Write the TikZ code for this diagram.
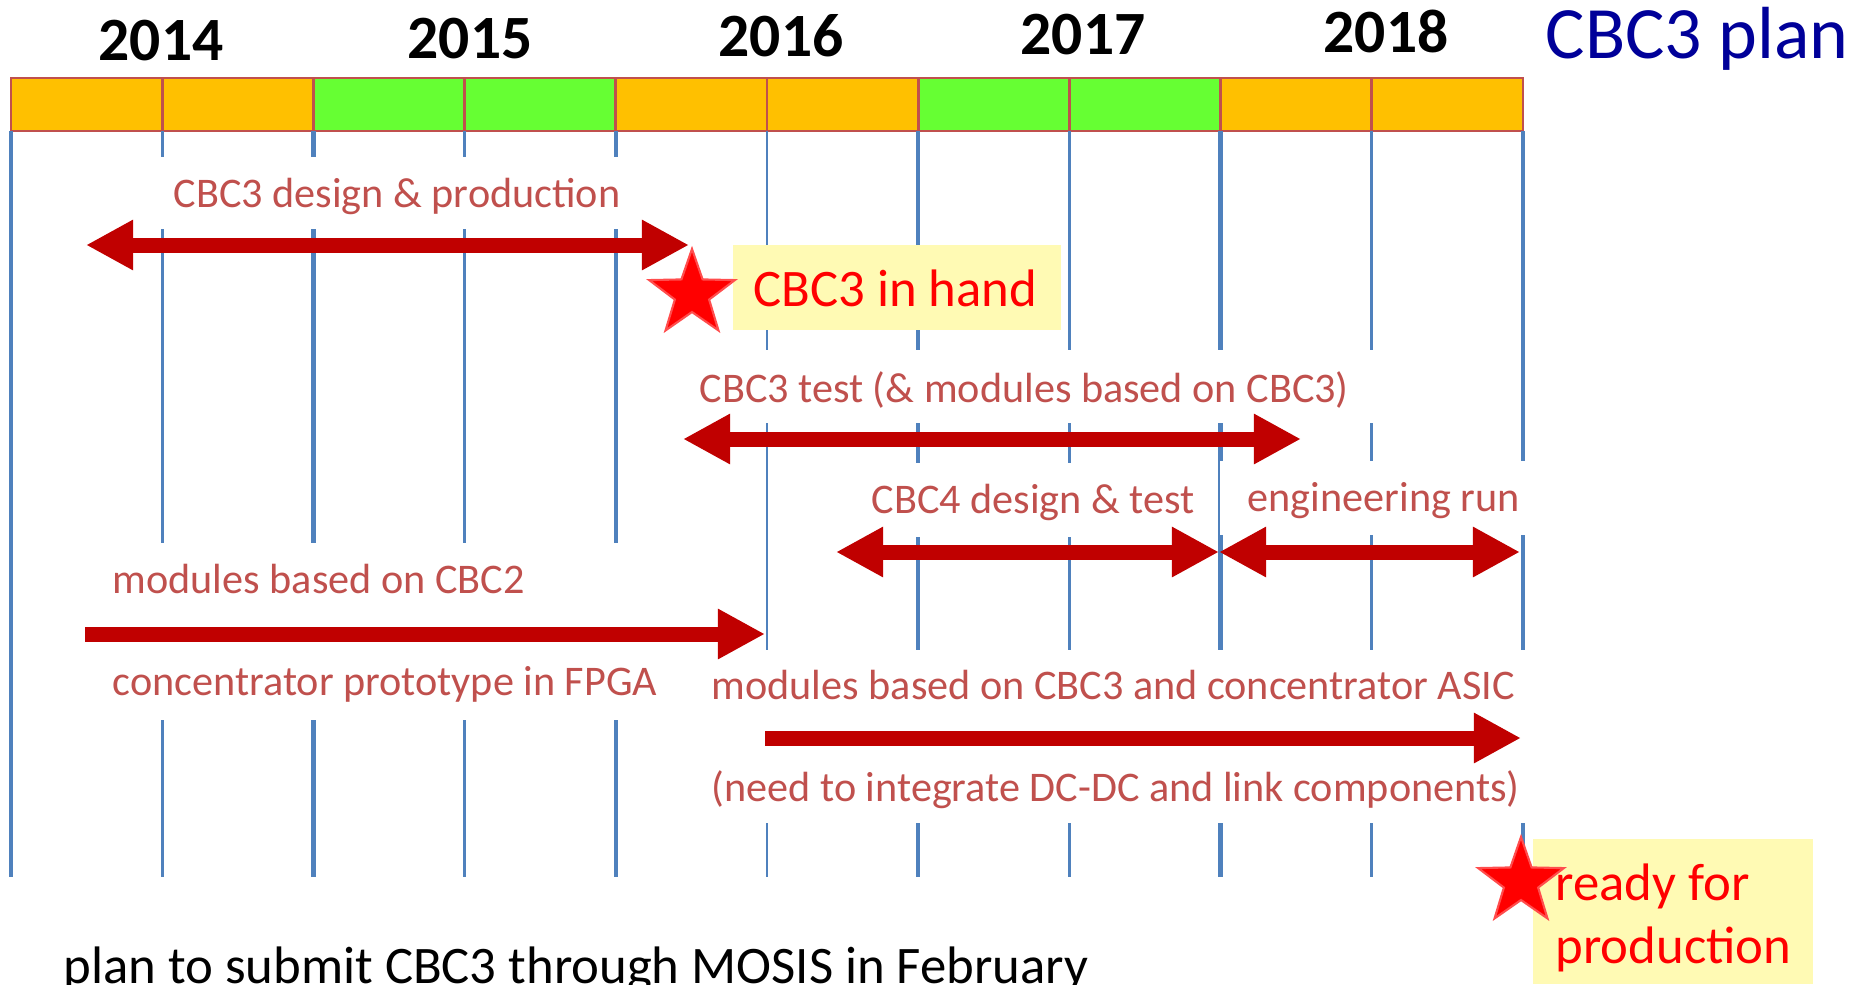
\documentclass[tikz,border=0pt]{standalone}
\usepackage{fontspec}
\setmainfont{Carlito}
\usetikzlibrary{arrows.meta,shapes.geometric}
\definecolor{barorange}{HTML}{FFC000}
\definecolor{bargreen}{HTML}{66FF33}
\definecolor{barline}{HTML}{C0504D}
\definecolor{gridblue}{HTML}{4F81BD}
\definecolor{labelred}{HTML}{C0504D}
\definecolor{arrowred}{HTML}{C00000}
\definecolor{hand}{HTML}{FFFAB4}
\definecolor{planblue}{HTML}{000099}
\definecolor{starrim}{HTML}{FF4D4D}
\tikzset{
  lbl/.style={anchor=base west,inner sep=0pt,text=labelred,font=\fontsize{12}{14}\selectfont},
  yr/.style={anchor=base,inner sep=0pt,font=\fontsize{17.5}{20}\selectfont\bfseries},
  bararrow/.style={arrowred,line width=0.15cm},
  blk/.tip={Triangle[length=0.47cm,width=0.47cm]},
  hotstar/.style={star,star points=5,star point ratio=2.5,minimum size=0.9cm,inner sep=0pt,fill=red,draw=starrim,line width=0.6pt},
  note/.style={anchor=base west,inner sep=0pt,text=red,font=\fontsize{15}{18}\selectfont}
}
\begin{document}
\begin{tikzpicture}[x=0.01cm,y=-0.01cm]
\useasboundingbox (0,0) rectangle (1863,984);
\clip (0,0) rectangle (1863,984);
\foreach \i/\c in {0/barorange,1/barorange,2/bargreen,3/bargreen,4/barorange,5/barorange,6/bargreen,7/bargreen,8/barorange,9/barorange}
  \filldraw[fill=\c,draw=barline,line width=0.8pt] ({11+151.2*\i},78) rectangle ({162.2+151.2*\i},131);
\foreach \i/\w in {0/1.3pt,1/0.8pt,2/1.3pt,3/0.8pt,4/1.3pt,5/0.8pt,6/1.3pt,7/0.8pt,8/1.3pt,9/0.8pt,10/1.3pt}
  \draw[gridblue,line width=\w] ({11+151.2*\i},131)--({11+151.2*\i},877);
\fill[white] (150,157) rectangle (640,229);
\fill[white] (680,350) rectangle (1420,423);
\fill[white] (800,463) rectangle (1218,537);
\fill[white] (1220,461) rectangle (1535,535);
\fill[white] (100,543) rectangle (690,720);
\fill[white] (700,650) rectangle (1535,823);
\fill[hand] (733,245) rectangle (1061,330);
\fill[hand] (1533,839) rectangle (1813,984);
\node[yr] (y14) at (161,60) {2014};
\node[yr] (y15) at (470,58) {2015};
\node[yr] (y16) at (781,56) {2016};
\node[yr] (y17) at (1083,54) {2017};
\node[yr] (y18) at (1386,52) {2018};
\node[anchor=base west,inner sep=0pt,text=planblue,font=\fontsize{21}{24}\selectfont] (plan) at (1545,58) {CBC3 plan};
\coordinate (designL) at (86,245); \coordinate (designR) at (689,245);
\coordinate (testL) at (683,439); \coordinate (testR) at (1301,439);
\coordinate (cbcfourL) at (836,552); \coordinate (engM) at (1219,552); \coordinate (engR) at (1520,552);
\coordinate (cbctwoL) at (85,634); \coordinate (cbctwoR) at (765,634);
\coordinate (asicL) at (765,738); \coordinate (asicR) at (1521,738);
\draw[bararrow,blk-blk] (designL)--(designR);
\draw[bararrow,blk-blk] (testL)--(testR);
\draw[bararrow,blk-blk] (cbcfourL)--(engM);
\draw[bararrow,blk-blk] (engM)--(engR);
\draw[bararrow,-blk] (cbctwoL)--(cbctwoR);
\draw[bararrow,-blk] (asicL)--(asicR);
\node[lbl] (design) at (173,207) {CBC3 design \& production};
\node[lbl] (test) at (699,402) {CBC3 test (\& modules based on CBC3)};
\node[lbl] (cbcfour) at (871,513) {CBC4 design \& test};
\node[lbl] (eng) at (1247,511) {engineering run};
\node[lbl] (cbctwo) at (112,593) {modules based on CBC2};
\node[lbl] (fpga) at (112,695) {concentrator prototype in FPGA};
\node[lbl] (asic) at (711,699) {modules based on CBC3 and concentrator ASIC};
\node[lbl] (dcdc) at (711,801) {(need to integrate DC-DC and link components)};
\node[hotstar] (inhandstar) at (692,294) {};
\node[note] (inhand) at (753,306) {CBC3 in hand};
\node[hotstar] (readystar) at (1521,882) {};
\node[note] (readyA) at (1555,900) {ready for};
\node[note] (readyB) at (1555,963) {production};
\node[anchor=base west,inner sep=0pt,font=\fontsize{15}{18}\selectfont] (mosis) at (63,983) {plan to submit CBC3 through MOSIS in February};
\end{tikzpicture}
\end{document}
